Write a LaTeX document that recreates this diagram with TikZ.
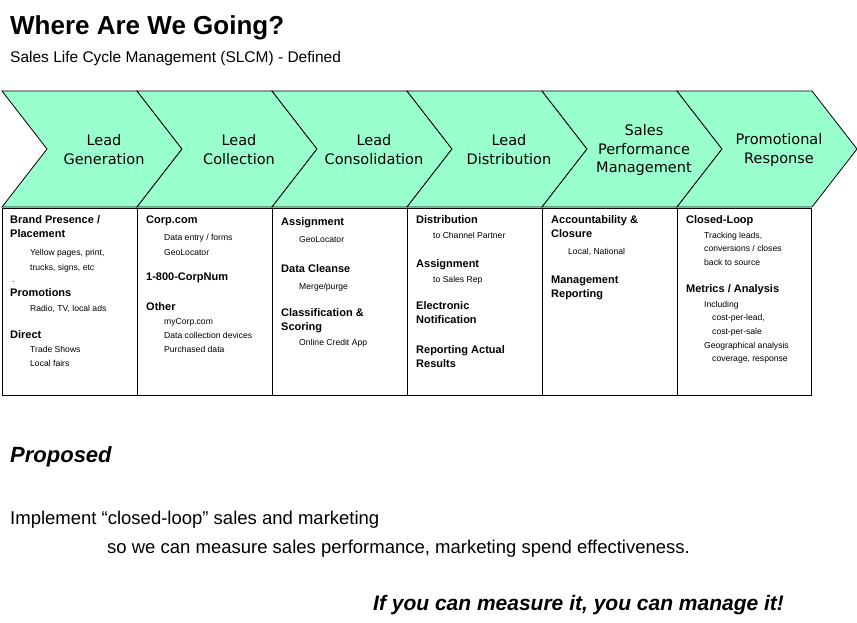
\documentclass[tikz,border=0pt]{standalone}
\usepackage{fontspec}
\setmainfont{Liberation Sans}
\newfontfamily\chevfont{DejaVu Sans}
\definecolor{ChevronColor}{RGB}{153,255,204}
\usetikzlibrary{positioning}
\tikzset{
  chevron/.style={draw=black, thick, fill=ChevronColor},
  chevlabel/.style={align=center, font=\chevfont\fontsize{14.5}{19}\selectfont},
  hd/.style={anchor=base west, inner sep=0pt, font=\bfseries\fontsize{11}{13}\selectfont},
  sb/.style={anchor=base west, inner sep=0pt, font=\fontsize{8.6}{10}\selectfont},
}
\begin{document}
\begin{tikzpicture}[x=1pt, y=-1pt]
\useasboundingbox (0,0) rectangle (857,623);

% Title
\node[anchor=base west, inner sep=0pt, font=\bfseries\fontsize{26}{30}\selectfont] (title) at (10,35) {Where Are We Going?};
\node[anchor=base west, inner sep=0pt, font=\fontsize{15.5}{18}\selectfont] (subtitle) at (10,63) {Sales Life Cycle Management (SLCM) - Defined};

% Chevrons
\foreach \i/\txt in {0/{Lead\\Generation}, 1/{Lead\\Collection}, 2/{Lead\\Consolidation},
                     3/{Lead\\Distribution}, 4/{Sales\\Performance\\Management}, 5/{Promotional\\Response}} {
  \pgfmathsetmacro{\xl}{2+135*\i}
  \draw[chevron] (\xl,91) -- ++(135,0) -- ++(45,58) -- ++(-45,58) -- ++(-135,0) -- ++(45,-58) -- cycle;
  \node[chevlabel] (chev\i) at (\xl+102,150) {\txt};
}

% Boxes
\draw[thin] (2,208) rectangle (811,395);
\foreach \x in {137,272,407,542,677}
  \draw[thin] (\x,208) -- (\x,395);

% Column 1
\foreach \y/\t/\s/\x in {223/{Brand Presence /}/hd/10, 237/Placement/hd/10,
    255/{Yellow pages, print,}/sb/30, 270/{trucks, signs, etc}/sb/30, 282/./sb/12,
    296/Promotions/hd/10, 311/{Radio, TV, local ads}/sb/30,
    338/Direct/hd/10, 352/Trade Shows/sb/30, 366/Local fairs/sb/30}
  \node[\s] at (\x,\y) {\t};

% Column 2
\foreach \y/\t/\s/\x in {223/Corp.com/hd/146, 240/{Data entry / forms}/sb/164, 255/GeoLocator/sb/164,
    280/1-800-CorpNum/hd/146, 310/Other/hd/146, 324/myCorp.com/sb/164,
    338/Data collection devices/sb/164, 352/Purchased data/sb/164}
  \node[\s] at (\x,\y) {\t};

% Column 3
\foreach \y/\t/\s/\x in {225/Assignment/hd/281, 242/GeoLocator/sb/299,
    272/Data Cleanse/hd/281, 289/{Merge/purge}/sb/299,
    316/Classification \&/hd/281, 330/Scoring/hd/281, 345/Online Credit App/sb/299}
  \node[\s] at (\x,\y) {\t};

% Column 4
\foreach \y/\t/\s/\x in {223/Distribution/hd/416, 238/to Channel Partner/sb/433,
    267/Assignment/hd/416, 282/to Sales Rep/sb/433,
    309/Electronic/hd/416, 323/Notification/hd/416,
    353/Reporting Actual/hd/416, 367/Results/hd/416}
  \node[\s] at (\x,\y) {\t};

% Column 5
\foreach \y/\t/\s/\x in {223/Accountability \&/hd/551, 237/Closure/hd/551,
    254/{Local, National}/sb/568, 283/Management/hd/551, 297/Reporting/hd/551}
  \node[\s] at (\x,\y) {\t};

% Column 6
\foreach \y/\t/\s/\x in {223/Closed-Loop/hd/686, 238/{Tracking leads,}/sb/704,
    251/{conversions / closes}/sb/704, 265/back to source/sb/704,
    292/{Metrics / Analysis}/hd/686, 307/Including/sb/704,
    320/{cost-per-lead,}/sb/712, 334/cost-per-sale/sb/712,
    348/Geographical analysis/sb/704, 361/{coverage, response}/sb/712}
  \node[\s] at (\x,\y) {\t};

% Proposed
\node[anchor=base west, inner sep=0pt, font=\bfseries\itshape\fontsize{22}{26}\selectfont] (proposed) at (10,462) {Proposed};
\node[anchor=base west, inner sep=0pt, font=\fontsize{18.5}{22}\selectfont] (implement) at (10,524) {Implement “closed-loop” sales and marketing};
\node[anchor=base west, inner sep=0pt, font=\fontsize{18.5}{22}\selectfont] (measure) at (107,553) {so we can measure sales performance, marketing spend effectiveness.};
\node[anchor=base west, inner sep=0pt, font=\bfseries\itshape\fontsize{21}{25}\selectfont] (motto) at (373,610) {If you can measure it, you can manage it!};
\end{tikzpicture}
\end{document}
